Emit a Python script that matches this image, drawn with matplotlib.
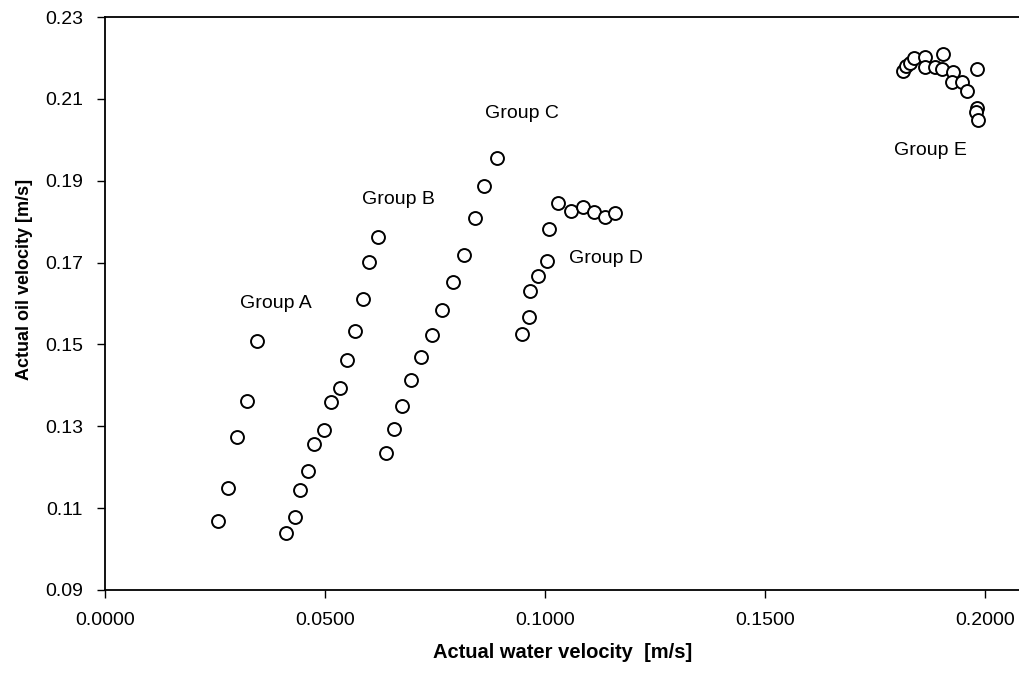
import matplotlib
matplotlib.use("Agg")
import matplotlib.pyplot as plt
from matplotlib.ticker import FormatStrFormatter

plt.rcParams['font.family'] = ['Liberation Sans', 'DejaVu Sans']

# Data (water velocity, oil velocity) [m/s]
group_a_x = [0.0256, 0.0279, 0.0300, 0.0323, 0.0345]
group_a_y = [0.1068, 0.1148, 0.1273, 0.1361, 0.1509]

group_b_x = [0.0412, 0.0432, 0.0444, 0.0462, 0.0476, 0.0497, 0.0513, 0.0534,
             0.0550, 0.0568, 0.0586, 0.0601, 0.0620]
group_b_y = [0.1039, 0.1078, 0.1144, 0.1191, 0.1256, 0.1291, 0.1360, 0.1393,
             0.1462, 0.1532, 0.1610, 0.1702, 0.1763]

group_c_x = [0.0639, 0.0656, 0.0676, 0.0695, 0.0718, 0.0743, 0.0767, 0.0791,
             0.0815, 0.0840, 0.0862, 0.0890]
group_c_y = [0.1234, 0.1293, 0.1349, 0.1413, 0.1470, 0.1524, 0.1584, 0.1653,
             0.1719, 0.1810, 0.1887, 0.1955]

group_d_x = [0.0947, 0.0963, 0.0965, 0.0983, 0.1004, 0.1010, 0.1029, 0.1059,
             0.1086, 0.1112, 0.1137, 0.1160]
group_d_y = [0.1526, 0.1568, 0.1631, 0.1667, 0.1703, 0.1783, 0.1845, 0.1827,
             0.1835, 0.1824, 0.1811, 0.1820]

group_e_x = [0.1813, 0.1820, 0.1829, 0.1838, 0.1864, 0.1864, 0.1886, 0.1904,
             0.1902, 0.1928, 0.1925, 0.1947, 0.1959, 0.1982, 0.1982, 0.1980,
             0.1984]
group_e_y = [0.2168, 0.2180, 0.2188, 0.2199, 0.2203, 0.2179, 0.2179, 0.2210,
             0.2172, 0.2166, 0.2142, 0.2142, 0.2120, 0.2172, 0.2077, 0.2069,
             0.2048]

group_labels = ["Group A", "Group B", "Group C", "Group D", "Group E"]
label_x = [0.0388, 0.0668, 0.0947, 0.1139, 0.1877]
label_y = [0.1599, 0.1853, 0.2065, 0.1710, 0.1975]

x_ticks = [0.0, 0.05, 0.10, 0.15, 0.20]
y_ticks = [0.09, 0.11, 0.13, 0.15, 0.17, 0.19, 0.21, 0.23]

fig = plt.figure(figsize=(10.2, 6.75), dpi=100)
ax = fig.add_axes([105/1020, 85/675, 1 - 105/1020, (590-17)/675])

groups = [(group_a_x, group_a_y), (group_b_x, group_b_y), (group_c_x, group_c_y),
          (group_d_x, group_d_y), (group_e_x, group_e_y)]
for gx, gy in groups:
    ax.plot(gx, gy, linestyle='none', marker='o', markersize=9.3,
            markerfacecolor='white', markeredgecolor='black', markeredgewidth=1.4)

for t, lx, ly in zip(group_labels, label_x, label_y):
    ax.text(lx, ly, t, ha='center', va='center', fontsize=14, color='black')

ax.set_xlim(0, (1020-105)/4400)
ax.set_ylim(0.09, 0.23)
ax.set_xticks(x_ticks)
ax.set_yticks(y_ticks)
ax.xaxis.set_major_formatter(FormatStrFormatter('%.4f'))
ax.yaxis.set_major_formatter(FormatStrFormatter('%.2f'))
ax.tick_params(axis='both', direction='out', length=6, width=1, labelsize=14,
               colors='black', pad=8)
ax.tick_params(axis='x', pad=10)
ax.tick_params(axis='y', pad=10)

ax.spines['right'].set_visible(False)
for s in ['left', 'bottom', 'top']:
    ax.spines[s].set_linewidth(1.3)
    ax.spines[s].set_color('black')

ax.set_xlabel("Actual water velocity  [m/s]", fontsize=14.5, fontweight='bold')
ax.xaxis.set_label_coords((563-105)/915, -(652-590)/573)
ax.set_ylabel("Actual oil velocity [m/s]", fontsize=13, fontweight='bold')
ax.yaxis.set_label_coords(-(105-25)/915, (590-279)/573)
ax.xaxis.label.set_va('center')
ax.yaxis.label.set_va('center')

fig.savefig("out.png", dpi=100)
